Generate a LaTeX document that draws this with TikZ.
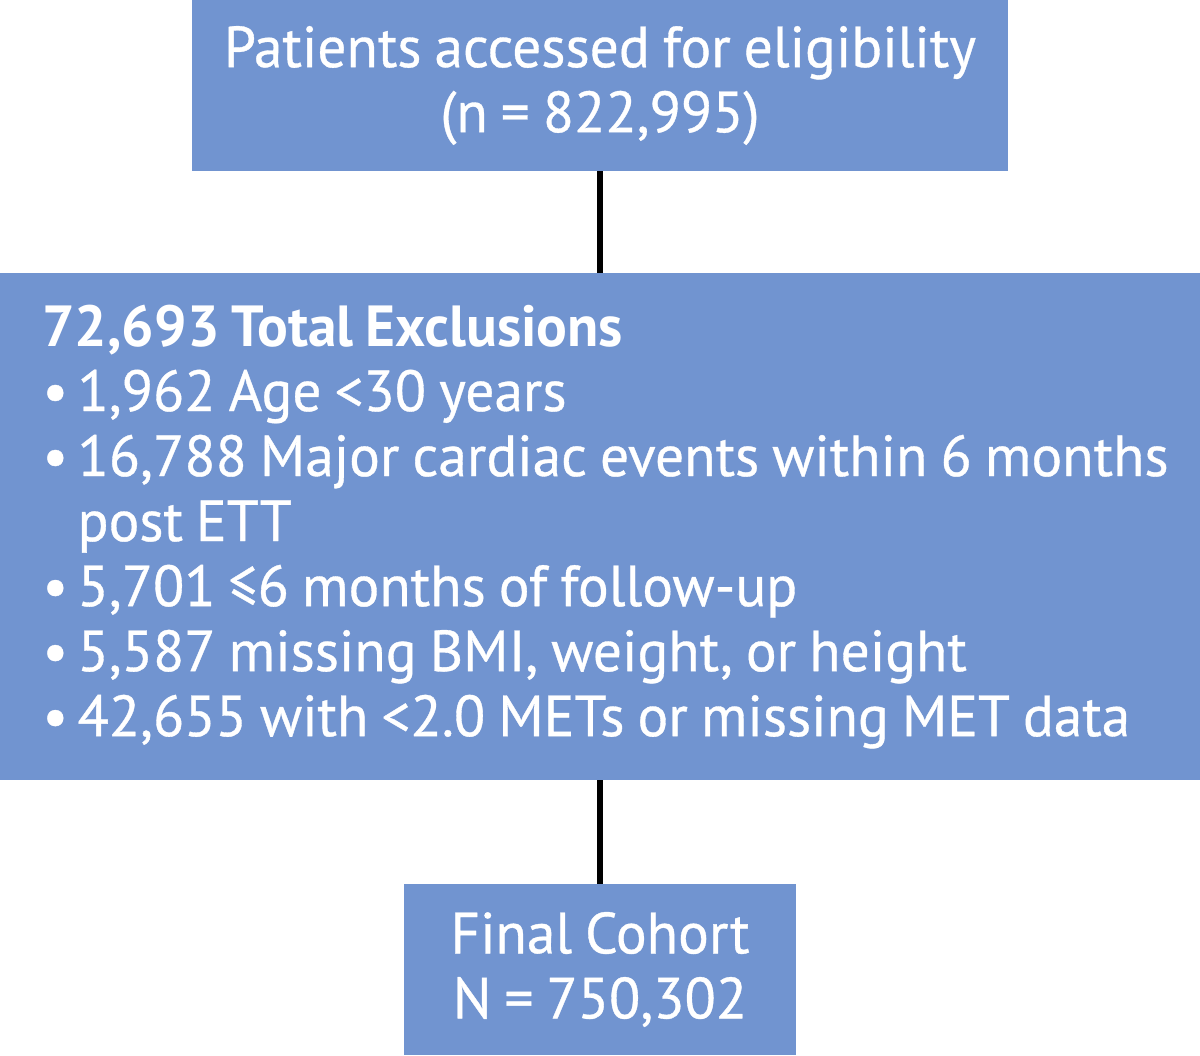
\documentclass[tikz,border=0pt]{standalone}
\usepackage{fontspec}
\setmainfont{PT Sans}[FakeStretch=0.99,WordSpace=0.85,UprightFeatures={FakeBold=0.6}]
\definecolor{boxblue}{HTML}{7194D0}
\newcommand{\bul}{\textbullet\hspace{0.16em}}

\begin{document}
\begin{tikzpicture}[
  box/.style={fill=boxblue,text=white,inner sep=0pt,outer sep=0pt,
    font=\fontsize{33}{37}\selectfont,align=center},
  boxtext/.style={text=white,inner sep=0pt,font=\fontsize{33}{37}\selectfont,align=left},
  link/.style={line width=3.5pt,black}]
\useasboundingbox (0,0) rectangle (24,-21.1);
\node[box,anchor=north,minimum width=16.32cm,minimum height=3.42cm] (top) at (12,0)
  {Patients accessed for eligibility\\(n = 822,995)};
\node[box,anchor=north,minimum width=24cm,minimum height=10.14cm] (excl) at (12,-5.46) {};
\node[boxtext,anchor=west] (excllist) at ([xshift=0.84cm]excl.west)
  {\textbf{72,693 Total Exclusions}\\
   \bul 1,962 Age <30 years\\
   \bul 16,788 Major cardiac events within 6 months\\
   \phantom{\bul}post ETT\\
   \bul 5,701 ≤6 months of follow-up\\
   \bul 5,587 missing BMI, weight, or height\\
   \bul 42,655 with <2.0 METs or missing MET data};
\node[box,anchor=north,minimum width=7.84cm,minimum height=3.42cm] (final) at (12,-17.68)
  {Final Cohort\\N = 750,302};
\draw[link] (top) -- (excl);
\draw[link] (excl) -- (final);
\end{tikzpicture}
\end{document}
